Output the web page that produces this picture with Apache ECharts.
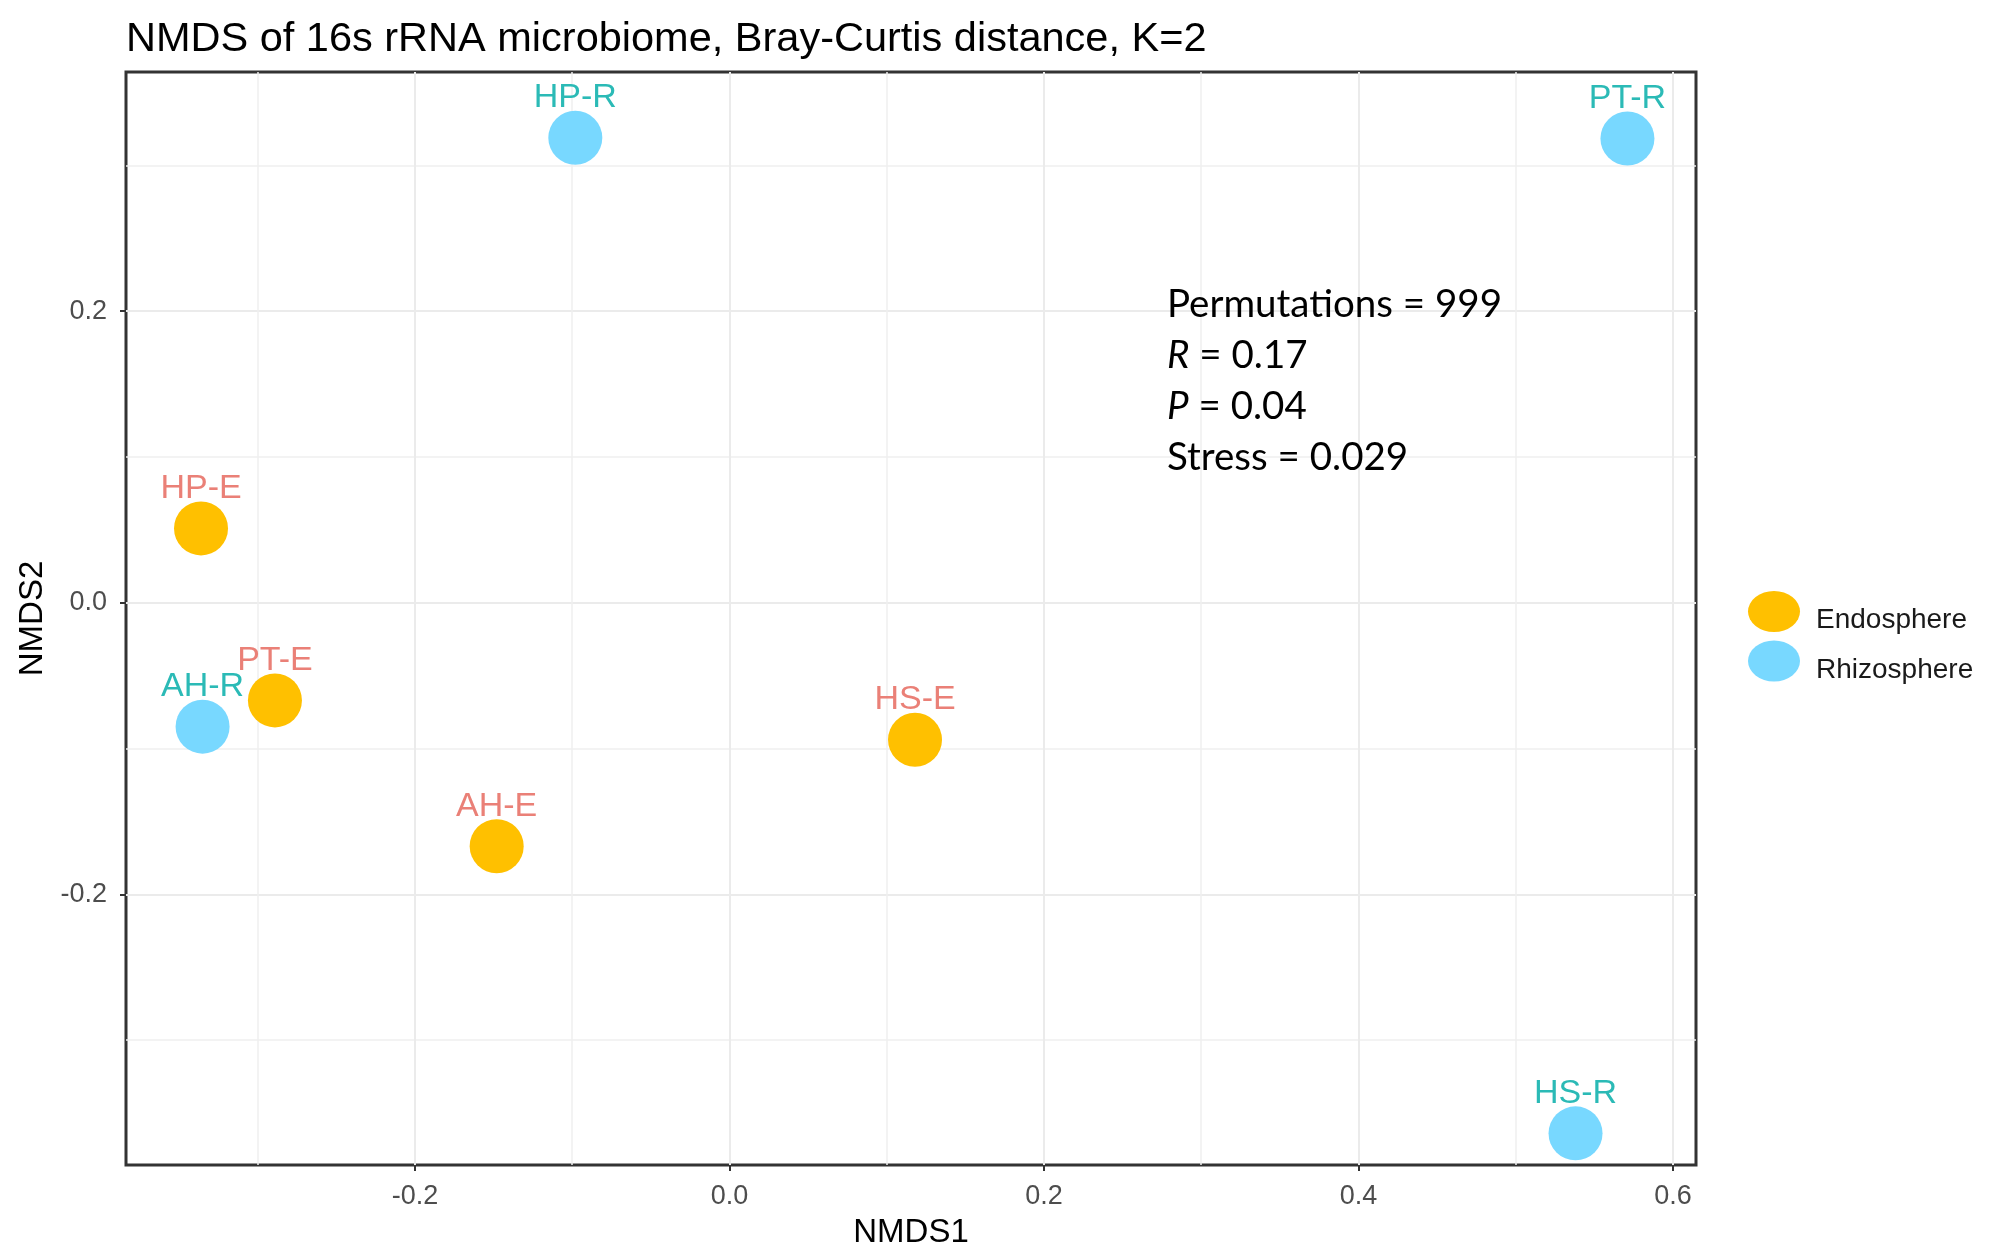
<!DOCTYPE html>
<html>
<head>
<meta charset="utf-8">
<style>
html,body{margin:0;padding:0;background:#fff}
#main{width:2012px;height:1258px}
</style>
<script src="https://cdn.jsdelivr.net/npm/echarts@6/dist/echarts.min.js"></script>
</head>
<body>
<div id="main"></div>
<script>
// NMDS scores
var endoNames = ['HP-E', 'PT-E', 'AH-E', 'HS-E'];
var endoX = [-0.336, -0.289, -0.148, 0.118];
var endoY = [0.051, -0.067, -0.167, -0.094];
var rhizoNames = ['HP-R', 'PT-R', 'AH-R', 'HS-R'];
var rhizoX = [-0.098, 0.571, -0.335, 0.538];
var rhizoY = [0.319, 0.3185, -0.085, -0.364];

// axis limits and breaks
var xRange = [-0.3837, 0.6146];
var yRange = [-0.3857, 0.3641];
var xMajor = [-0.2, 0, 0.2, 0.4, 0.6];
var xMinor = [-0.3, -0.1, 0.1, 0.3, 0.5];
var yMajor = [-0.2, 0, 0.2];
var yMinor = [-0.3, -0.1, 0.1, 0.3];

var groups = ['Endosphere', 'Rhizosphere'];
var statsText = 'Permutations = 999\n{i|R} = 0.17\n{i|P} = 0.04\nStress = 0.029';

var sans = '"Liberation Sans", Arial, sans-serif';
var ellipse = 'path://M0,50 A50,50 0 1,1 100,50 A50,50 0 1,1 0,50 Z';

function pts(names, xs, ys) {
    var out = [];
    for (var i = 0; i < names.length; i++) {
        out.push({ name: names[i], value: [xs[i], ys[i]] });
    }
    return out;
}

function fmt(v) { return (Math.abs(v) < 1e-9 ? 0 : v).toFixed(1); }

function mainAxis(range, major, name, gap, labelMargin) {
    return {
        type: 'value', min: range[0], max: range[1],
        axisLine: { show: false, onZero: false },
        axisTick: { show: true, length: 6, customValues: major, lineStyle: { color: '#333', width: 2 } },
        axisLabel: { customValues: major, formatter: fmt, fontSize: 27, color: '#4d4d4d', margin: labelMargin, fontFamily: sans },
        splitLine: { show: true, lineStyle: { color: '#ebebeb', width: 2 } },
        name: name, nameLocation: 'middle', nameGap: gap,
        nameTextStyle: { fontSize: 33, color: '#000', fontFamily: sans }
    };
}
function minorAxis(range, minor) {
    return {
        type: 'value', min: range[0], max: range[1],
        axisLine: { show: false, onZero: false },
        axisTick: { show: false, customValues: minor },
        axisLabel: { show: false },
        splitLine: { show: true, lineStyle: { color: '#efefef', width: 1.5 } }
    };
}

var xa0 = mainAxis(xRange, xMajor, 'NMDS1', 51, 18); xa0.position = 'bottom';
var xa1 = minorAxis(xRange, xMinor); xa1.position = 'top';
var ya0 = mainAxis(yRange, yMajor, 'NMDS2', 55, 19); ya0.position = 'left';
var ya1 = minorAxis(yRange, yMinor); ya1.position = 'right';

var option = {
    backgroundColor: '#fff',
    animation: false,
    title: [{
        text: 'NMDS of 16s rRNA microbiome, Bray-Curtis distance, K=2',
        left: 126, top: 19, padding: 0,
        textStyle: { fontSize: 41.5, fontWeight: 'normal', color: '#000', fontFamily: sans }
    }, {
        text: statsText,
        left: 1167, top: 279, padding: 0,
        textStyle: {
            fontSize: 38.5, lineHeight: 51, fontWeight: 'normal', color: '#000', fontFamily: 'Lato',
            rich: { i: { fontStyle: 'italic', fontSize: 38.5, lineHeight: 51, fontFamily: 'Lato', color: '#000' } }
        }
    }],
    grid: { left: 126, right: 316, top: 72, bottom: 93, show: true, borderColor: '#333', borderWidth: 3, backgroundColor: 'transparent' },
    legend: {
        data: groups, orient: 'vertical', left: 1743, top: 586,
        itemWidth: 52, itemHeight: 41, itemGap: 6, icon: ellipse, symbolKeepAspect: false,
        formatter: '{t|{name}}',
        textStyle: {
            fontSize: 28, color: '#1a1a1a', fontFamily: sans,
            rich: { t: { fontSize: 28, color: '#1a1a1a', fontFamily: sans, padding: [18, 0, 0, 11] } }
        }
    },
    xAxis: [xa0, xa1],
    yAxis: [ya0, ya1],
    series: [{
        name: groups[0], type: 'scatter', xAxisIndex: 0, yAxisIndex: 0,
        symbol: 'circle', symbolSize: 54,
        itemStyle: { color: '#ffc000', opacity: 1 },
        label: { show: true, position: 'top', distance: -4, formatter: '{b}', fontSize: 34, color: '#ea8077', fontFamily: sans },
        data: pts(endoNames, endoX, endoY)
    }, {
        name: groups[1], type: 'scatter', xAxisIndex: 0, yAxisIndex: 0,
        symbol: 'circle', symbolSize: 54,
        itemStyle: { color: '#78d8ff', opacity: 1 },
        label: { show: true, position: 'top', distance: -4, formatter: '{b}', fontSize: 34, color: '#2bbab6', fontFamily: sans },
        data: pts(rhizoNames, rhizoX, rhizoY)
    }]
};

var myChart = echarts.init(document.getElementById('main'));
myChart.setOption(option);
</script>
</body>
</html>
